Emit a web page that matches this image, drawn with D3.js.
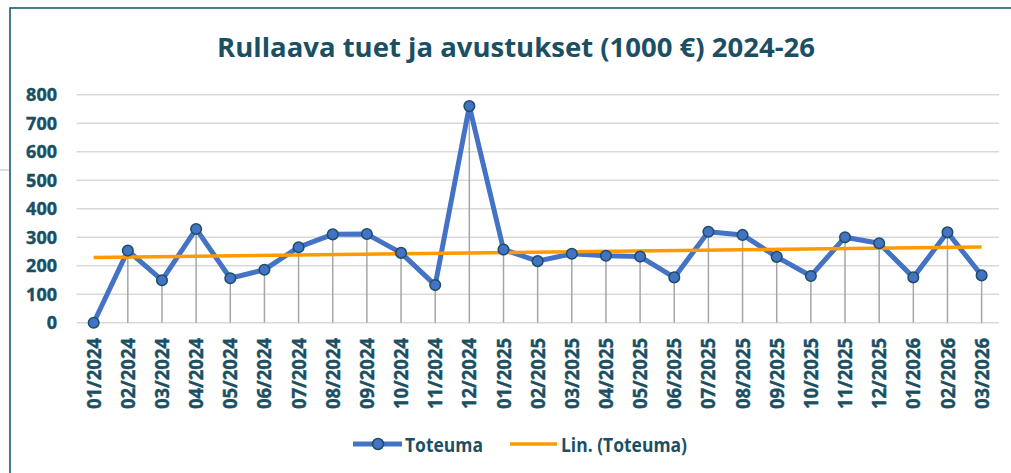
<!DOCTYPE html>
<html><head><meta charset="utf-8">
<script src="https://cdn.jsdelivr.net/npm/d3@7"></script>
<style>html,body{margin:0;padding:0;background:#fff;overflow:hidden}</style>
</head><body>
<svg id="c" width="1011" height="473"></svg>
<script>
const categories = ["01/2024","02/2024","03/2024","04/2024","05/2024","06/2024","07/2024","08/2024","09/2024","10/2024","11/2024","12/2024",
 "01/2025","02/2025","03/2025","04/2025","05/2025","06/2025","07/2025","08/2025","09/2025","10/2025","11/2025","12/2025",
 "01/2026","02/2026","03/2026"];
const toteuma = [0,253,149,329,156,186,265,310,311,245,132,760,
 257,216,242,235,232,159,319,308,231,164,300,279,
 159,317,166];
const yTicks = [0,100,200,300,400,500,600,700,800];
const title = "Rullaava tuet ja avustukset (1000 €) 2024-26";
const legendLabels = ["Toteuma","Lin. (Toteuma)"];

const textCol = "#1B4F63", blue = "#4472C4", orange = "#FF9A00";
const font = "'Open Sans', sans-serif";
const svg = d3.select("#c");

// frame
svg.append("rect").attr("x",10).attr("y",8).attr("width",1100).attr("height",600)
  .attr("fill","none").attr("stroke","#1B5A70").attr("stroke-width",1.6);
svg.append("line").attr("x1",0).attr("x2",9).attr("y1",170).attr("y2",170)
  .attr("stroke","#a9bfcc").attr("stroke-width",1);

const x = d3.scaleBand().domain(categories).range([76.6,998.7]);
const cx = d => x(d) + x.bandwidth()/2;
const y = d3.scaleLinear().domain([0,800]).range([322.7,94.7]);

// title
svg.append("text").attr("x",516).attr("y",57).attr("text-anchor","middle")
  .attr("font-family",font).attr("font-weight",700).attr("font-size",27)
  .attr("fill",textCol).attr("textLength",598).attr("lengthAdjust","spacingAndGlyphs").text(title);

// gridlines
svg.append("g").selectAll("line").data(yTicks).join("line")
  .attr("x1",76.6).attr("x2",999).attr("y1",d=>y(d)).attr("y2",d=>y(d))
  .attr("stroke","#d9d9d9").attr("stroke-width",1.5);

// y labels
svg.append("g").selectAll("text").data(yTicks).join("text")
  .attr("x",57).attr("y",d=>y(d)).attr("dy","0.36em").attr("text-anchor","end")
  .attr("font-family",font).attr("font-weight",700).attr("font-size",18).attr("fill",textCol)
  .attr("stroke",textCol).attr("stroke-width",0.4)
  .text(d=>d);

// x labels
svg.append("g").selectAll("text").data(categories).join("text")
  .attr("transform",d=>`translate(${cx(d)},338) rotate(-90)`)
  .attr("dy","0.37em").attr("text-anchor","end")
  .attr("font-family",font).attr("font-weight",700).attr("font-size",19).attr("fill",textCol)
  .attr("stroke",textCol).attr("stroke-width",0.4)
  .attr("textLength",71).attr("lengthAdjust","spacingAndGlyphs")
  .text(d=>d);

// drop lines
svg.append("g").selectAll("line").data(toteuma).join("line")
  .attr("x1",(d,i)=>cx(categories[i])).attr("x2",(d,i)=>cx(categories[i]))
  .attr("y1",d=>y(d)).attr("y2",y(0)).attr("stroke","#a6a6a6").attr("stroke-width",1.5);

// series line
const pts = toteuma.map((v,i)=>[cx(categories[i]), y(v)]);
svg.append("path").attr("d",d3.line()(pts)).attr("fill","none")
  .attr("stroke",blue).attr("stroke-width",5).attr("stroke-linejoin","round");

// linear trend (least squares of the series)
const n = toteuma.length, idx = d3.range(1,n+1);
const mx = d3.mean(idx), my = d3.mean(toteuma);
const slope = d3.sum(idx,(t,i)=>(t-mx)*(toteuma[i]-my)) / d3.sum(idx,t=>(t-mx)*(t-mx));
const icpt = my - slope*mx;
const trend = [[cx(categories[0]), y(icpt+slope*1)],[cx(categories[n-1]), y(icpt+slope*n)]];
svg.append("path").attr("d",d3.line()(trend)).attr("fill","none")
  .attr("stroke",orange).attr("stroke-width",3.5);

// markers
svg.append("g").selectAll("circle").data(pts).join("circle")
  .attr("cx",d=>d[0]).attr("cy",d=>d[1]).attr("r",5.3)
  .attr("fill",blue).attr("stroke","#1B4F63").attr("stroke-width",1.5);

// legend
const lg = svg.append("g");
lg.append("line").attr("x1",353).attr("x2",402).attr("y1",444).attr("y2",444)
  .attr("stroke",blue).attr("stroke-width",5);
lg.append("circle").attr("cx",378).attr("cy",444).attr("r",5.5)
  .attr("fill",blue).attr("stroke","#1B4F63").attr("stroke-width",1.5);
lg.append("text").attr("x",405).attr("y",452).attr("font-family",font).attr("font-weight",700)
  .attr("font-size",19).attr("fill",textCol).attr("textLength",78).attr("lengthAdjust","spacingAndGlyphs")
  .text(legendLabels[0]);
lg.append("line").attr("x1",510).attr("x2",557).attr("y1",444).attr("y2",444)
  .attr("stroke",orange).attr("stroke-width",3.5);
lg.append("text").attr("x",561).attr("y",452).attr("font-family",font).attr("font-weight",700)
  .attr("font-size",19).attr("fill",textCol).attr("textLength",126).attr("lengthAdjust","spacingAndGlyphs")
  .text(legendLabels[1]);
</script>
</body></html>
